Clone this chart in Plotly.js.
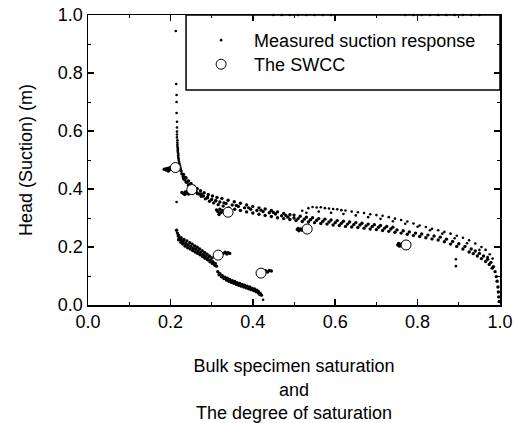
<!DOCTYPE html>
<html>
<head>
<meta charset="utf-8">
<script src="https://cdn.plot.ly/plotly-3.0.1.min.js"></script>
<style>html,body{margin:0;padding:0;background:#fff;}#chart{width:518px;height:423px;}</style>
</head>
<body>
<div id="chart"></div>
<script>
// ---- Measured suction response (read from the picture), by segment ----
// near-vertical rise at x ~ 0.215
const riseX = [0.213,0.214,0.215,0.215,0.215,0.216,0.216,0.216,0.216,0.216,0.217,0.217,0.217,0.217,0.218,0.218,0.218,0.219,0.219,0.219,0.22,0.22,0.221,0.222,0.223,0.224,0.225,0.215];
const riseY = [0.945,0.762,0.724,0.70,0.662,0.632,0.612,0.598,0.588,0.578,0.568,0.56,0.553,0.546,0.54,0.534,0.528,0.522,0.516,0.51,0.505,0.5,0.494,0.488,0.482,0.476,0.47,0.355];
// main drying curve, dense part (x 0.22 - 0.50)
const curveX = [0.226,0.228,0.231,0.235,0.24,0.245,0.25,0.256,0.263,0.27,0.28,0.29,0.30,0.31,0.32,0.335,0.35,0.365,0.38,0.395,0.41,0.425,0.44,0.455,0.47,0.485,0.50,
                0.232,0.238,0.244,0.25,0.257,0.265,0.273,0.282,0.292,0.302,0.313,0.325,0.34,0.355,0.37,0.385,0.40,0.415,0.43,0.445,0.46,0.475,0.49,
                0.232,0.238,0.244,0.25,0.258,0.266,0.275,0.285,0.295,0.305,0.316,0.328,0.342,0.356,0.37,0.385,0.40,0.415,0.43,0.445,0.46,0.475,0.49,
                0.236,0.248,0.26,0.275,0.29,0.31,0.33,0.36,0.39,0.42,0.45,0.48];
const curveY = [0.462,0.452,0.442,0.432,0.423,0.414,0.406,0.398,0.39,0.383,0.376,0.37,0.364,0.359,0.355,0.35,0.345,0.34,0.335,0.33,0.326,0.322,0.318,0.314,0.308,0.303,0.30,
                0.45,0.438,0.428,0.419,0.41,0.401,0.394,0.387,0.381,0.376,0.371,0.367,0.361,0.356,0.351,0.345,0.34,0.335,0.331,0.326,0.321,0.316,0.311,
                0.435,0.424,0.413,0.403,0.393,0.384,0.375,0.366,0.358,0.352,0.346,0.341,0.335,0.33,0.326,0.321,0.317,0.313,0.309,0.305,0.301,0.298,0.295,
                0.44,0.415,0.398,0.383,0.372,0.36,0.352,0.343,0.335,0.327,0.319,0.309];
// main curve, right part (x 0.50 - 1.0)
const tailX = [0.51,0.525,0.54,0.555,0.57,0.585,0.60,0.615,0.63,0.645,0.66,0.675,0.69,0.705,0.72,0.735,0.75,0.765,0.78,0.795,0.81,0.825,0.84,0.855,0.87,0.885,0.90,0.915,0.93,0.94,0.95,0.96,0.97,0.978,0.984,0.988,0.991,0.993,0.995,0.996,0.997,0.998,
               0.505,0.52,0.535,0.55,0.565,0.58,0.595,0.61,0.625,0.64,0.655,0.67,0.685,0.70,0.715,0.73,0.745,0.76,0.775,0.79,0.805,0.82,0.835,0.85,0.865,0.88,0.895,0.91,0.925,0.935,0.945,0.955,0.965,0.974,0.981,
               0.50,0.515,0.53,0.545,0.56,0.575,0.59,0.605,0.62,0.635,0.65,0.665,0.68,0.695,0.71,0.725,0.74];
const tailY = [0.298,0.296,0.294,0.292,0.289,0.286,0.284,0.282,0.279,0.277,0.276,0.273,0.271,0.268,0.265,0.262,0.259,0.256,0.252,0.248,0.245,0.241,0.238,0.234,0.227,0.219,0.211,0.202,0.193,0.186,0.178,0.169,0.158,0.147,0.132,0.115,0.098,0.082,0.062,0.045,0.028,0.012,
               0.291,0.288,0.286,0.284,0.281,0.279,0.276,0.274,0.271,0.269,0.267,0.265,0.262,0.26,0.257,0.254,0.251,0.248,0.244,0.24,0.236,0.232,0.228,0.224,0.218,0.21,0.202,0.193,0.183,0.177,0.169,0.16,0.15,0.14,0.127,
               0.31,0.306,0.303,0.301,0.298,0.296,0.293,0.291,0.289,0.286,0.284,0.282,0.279,0.277,0.274,0.271,0.268];
// sparse upper band (x 0.52 - 0.98), two loose rows
const upperX = [0.52,0.535,0.545,0.555,0.565,0.575,0.585,0.595,0.605,0.615,0.625,0.64,0.655,0.67,0.685,0.70,0.715,0.73,0.745,0.76,0.775,0.79,0.805,0.82,0.835,0.85,0.865,0.88,0.895,0.91,0.925,0.94,0.955,0.965,0.975,0.982,
                0.53,0.56,0.59,0.62,0.65,0.68,0.71,0.74,0.77,0.80,0.83,0.86,0.89,0.92,0.95,0.97];
const upperY = [0.325,0.334,0.338,0.336,0.337,0.334,0.333,0.331,0.33,0.327,0.326,0.322,0.32,0.317,0.313,0.31,0.308,0.303,0.298,0.293,0.288,0.281,0.274,0.269,0.263,0.258,0.252,0.246,0.239,0.232,0.223,0.212,0.2,0.19,0.175,0.16,
                0.318,0.322,0.318,0.314,0.309,0.303,0.297,0.289,0.28,0.27,0.258,0.246,0.23,0.213,0.19,0.165];
// lower branch, first segment (x 0.215 - 0.31)
const lowAX = [0.215,0.217,0.219,0.222,0.226,0.231,0.237,0.243,0.249,0.255,0.261,0.267,0.273,0.279,0.285,0.291,0.297,0.303,0.309,
               0.22,0.225,0.23,0.236,0.242,0.248,0.254,0.26,0.266,0.272,0.278,0.284,0.29,0.296,0.302,0.308,0.312,
               0.22,0.226,0.233,0.24,0.247,0.253,0.259,0.265,0.271,0.277,0.283,0.289,0.295,0.301];
const lowAY = [0.258,0.248,0.238,0.23,0.224,0.218,0.212,0.207,0.202,0.197,0.192,0.186,0.18,0.174,0.168,0.162,0.155,0.149,0.143,
               0.225,0.216,0.21,0.203,0.197,0.193,0.188,0.183,0.178,0.173,0.167,0.161,0.156,0.149,0.143,0.137,0.134,
               0.24,0.232,0.226,0.221,0.215,0.21,0.204,0.199,0.193,0.187,0.181,0.175,0.168,0.162];
// lower branch, second segment (x 0.315 - 0.43)
const lowBX = [0.315,0.32,0.326,0.332,0.338,0.344,0.35,0.356,0.362,0.368,0.374,0.38,0.386,0.392,0.398,0.404,0.41,0.414,0.418,0.421,
               0.318,0.324,0.33,0.336,0.342,0.348,0.354,0.36,0.366,0.372,0.378,0.384,0.39,0.396,0.402,0.408,0.413,0.417];
const lowBY = [0.115,0.108,0.101,0.096,0.092,0.088,0.084,0.081,0.077,0.074,0.071,0.068,0.065,0.062,0.058,0.055,0.051,0.046,0.04,0.034,
               0.104,0.097,0.091,0.086,0.082,0.078,0.075,0.071,0.068,0.065,0.062,0.059,0.056,0.053,0.05,0.046,0.042,0.036];
// small clusters beside the SWCC points
const clusterX = [0.185,0.19,0.195,0.19,0.198,0.2,0.205,0.195,
                  0.228,0.232,0.236,0.24,0.244,0.235,0.242,
                  0.315,0.32,0.322,0.326,0.318,0.33,0.312,
                  0.508,0.512,0.516,0.52,0.51,0.522,
                  0.752,0.756,0.76,0.758,0.754,
                  0.328,0.333,0.337,0.34,0.344,
                  0.426,0.431,0.436,0.44,0.445];
const clusterY = [0.468,0.47,0.472,0.465,0.466,0.474,0.47,0.462,
                  0.388,0.384,0.39,0.386,0.383,0.381,0.392,
                  0.322,0.33,0.318,0.326,0.312,0.32,0.328,
                  0.26,0.256,0.262,0.258,0.264,0.263,
                  0.207,0.203,0.21,0.205,0.212,
                  0.178,0.182,0.176,0.18,0.178,
                  0.115,0.118,0.114,0.119,0.117];
// isolated strays and points lying on the top border
const strayX = [0.893,0.893,0.425,0.45,0.47,0.49,0.51,0.53,0.55,0.57,0.59,0.77,0.79,0.81,0.83,0.85,0.87,0.89,0.91,0.93,0.95];
const strayY = [0.158,0.134,0.018,1.0,1.0,1.0,1.0,1.0,1.0,1.0,1.0,1.0,1.0,1.0,1.0,1.0,1.0,1.0,1.0,1.0,1.0];

// ---- The SWCC ----
const swccX = [0.212,0.252,0.34,0.532,0.772,0.316,0.42];
const swccY = [0.474,0.398,0.32,0.262,0.207,0.172,0.11];

// sparse dots (legend entry) and dense band dots
const sparseX = [].concat(riseX, upperX, strayX);
const sparseY = [].concat(riseY, upperY, strayY);
const denseX = [].concat(curveX, tailX, lowAX, lowBX, clusterX);
const denseY = [].concat(curveY, tailY, lowAY, lowBY, clusterY);

const FONT = 'Liberation Sans, Arial, sans-serif';

const traces = [
  {x: denseX, y: denseY, type: 'scatter', mode: 'markers', name: 'Measured suction response',
   legendgroup: 'meas', showlegend: false,
   marker: {color: '#000', size: 3.4, symbol: 'circle'}, cliponaxis: false},
  {x: sparseX, y: sparseY, type: 'scatter', mode: 'markers', name: 'Measured suction response',
   legendgroup: 'meas', legend: 'legend',
   marker: {color: '#000', size: 2.6, symbol: 'circle'}, cliponaxis: false},
  {x: swccX, y: swccY, type: 'scatter', mode: 'markers', name: 'The SWCC', legend: 'legend2',
   marker: {color: '#fff', size: 10, symbol: 'circle', line: {color: '#000', width: 1}}, cliponaxis: false}
];

const axisCommon = {
  range: [0, 1], dtick: 0.2, tick0: 0, tickformat: '.1f',
  ticks: 'inside', ticklen: 6, tickwidth: 1.5, tickcolor: '#000',
  showline: true, linewidth: 1.5, linecolor: '#000', mirror: 'ticks',
  minor: {dtick: 0.1, ticks: 'inside', ticklen: 3, tickwidth: 1, tickcolor: '#000'},
  showgrid: false, zeroline: false,
  tickfont: {family: FONT, size: 18, color: '#000'}
};

const legendCommon = {xanchor: 'left', yanchor: 'top', bgcolor: 'rgba(0,0,0,0)', borderwidth: 0,
                      itemwidth: 56, font: {family: FONT, size: 18, color: '#000'}};

const layout = {
  width: 518, height: 423,
  margin: {l: 88, r: 18, t: 15, b: 118},
  paper_bgcolor: '#fff', plot_bgcolor: '#fff',
  font: {family: FONT, size: 18, color: '#000'},
  showlegend: true,
  xaxis: Object.assign({}, axisCommon, {
    title: {text: 'Bulk specimen saturation<br>and<br>The degree of saturation',
            font: {family: FONT, size: 18, color: '#000'}, standoff: 29}
  }),
  yaxis: Object.assign({}, axisCommon, {
    title: {text: 'Head (Suction) (m)', font: {family: FONT, size: 18, color: '#000'}, standoff: 20}
  }),
  legend: Object.assign({}, legendCommon, {x: 0.243, y: 0.976}),
  legend2: Object.assign({}, legendCommon, {x: 0.243, y: 0.893}),
  shapes: [{type: 'rect', xref: 'paper', yref: 'paper', x0: 0.238, x1: 1, y0: 0.741, y1: 1,
            line: {color: '#000', width: 1.5}, fillcolor: 'rgba(0,0,0,0)', layer: 'above'}]
};

Plotly.newPlot('chart', traces, layout, {displayModeBar: false, staticPlot: true});
</script>
</body>
</html>
